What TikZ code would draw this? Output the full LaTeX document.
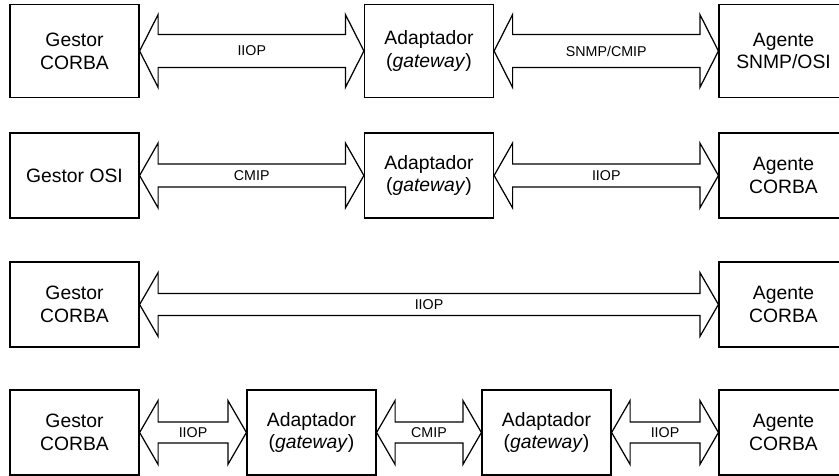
\documentclass[tikz,border=0pt]{standalone}
\usepackage{fontspec}
\setmainfont{Liberation Sans}
\usepackage{tikz}
\usetikzlibrary{calc}
\tikzset{style={font=\fontsize{11}{13}\selectfont}}

% block arrow with two heads: from node, to node, label, half shaft, half head
\newcommand{\dualarrow}[5]{%
  \draw (#1.east) -- ($(#1.east)+(3.7mm,#5)$) -- ($(#1.east)+(3.7mm,#4)$)
    -- ($(#2.west)+(-3.7mm,#4)$) -- ($(#2.west)+(-3.7mm,#5)$) -- (#2.west)
    -- ($(#2.west)+(-3.7mm,-#5)$) -- ($(#2.west)+(-3.7mm,-#4)$)
    -- ($(#1.east)+(3.7mm,-#4)$) -- ($(#1.east)+(3.7mm,-#5)$) -- cycle;
  \node[lbl] (#1#2) at ($(#1.east)!.5!(#2.west)$) {#3};}

\begin{document}
\begin{tikzpicture}[
            line width=0.7pt,
            box/.style={
                draw,
                minimum width=25.8mm,
                minimum height=17mm,
                inner sep=0pt,
                align=center,
            },
            tallbox/.style={box, minimum height=18.6mm},
            lbl/.style={font=\fontsize{8.1}{9.6}\selectfont, inner sep=0pt},
        ]
        \clip (0mm,0mm) rectangle (167.8mm,-95mm);
        % first row
        \node[tallbox] (g1) at (14.9mm,-10.2mm) {Gestor\\CORBA};
        \node[tallbox] (a1) at (85.8mm,-10.2mm) {Adaptador\\(\textit{gateway})};
        \node[tallbox] (ag1) at (156.7mm,-10.2mm) {Agente\\SNMP/OSI};
        \dualarrow{g1}{a1}{IIOP}{3.3mm}{7.3mm}
        \dualarrow{a1}{ag1}{SNMP/CMIP}{3.3mm}{7.3mm}
        % second row
        \node[box] (g2) at (14.9mm,-35.1mm) {Gestor OSI};
        \node[box] (a2) at (85.8mm,-35.1mm) {Adaptador\\(\textit{gateway})};
        \node[box] (ag2) at (156.7mm,-35.1mm) {Agente\\CORBA};
        \dualarrow{g2}{a2}{CMIP}{2.3mm}{6.5mm}
        \dualarrow{a2}{ag2}{IIOP}{2.3mm}{6.5mm}
        % third row
        \node[box] (g3) at (14.9mm,-60.9mm) {Gestor\\CORBA};
        \node[box] (ag3) at (156.7mm,-60.9mm) {Agente\\CORBA};
        \dualarrow{g3}{ag3}{IIOP}{2.2mm}{6.4mm}
        % fourth row
        \node[box] (g4) at (14.9mm,-86.5mm) {Gestor\\CORBA};
        \node[box] (a4) at (62.3mm,-86.5mm) {Adaptador\\(\textit{gateway})};
        \node[box] (b4) at (109.3mm,-86.5mm) {Adaptador\\(\textit{gateway})};
        \node[box] (ag4) at (156.7mm,-86.5mm) {Agente\\CORBA};
        \dualarrow{g4}{a4}{IIOP}{2.1mm}{6.4mm}
        \dualarrow{a4}{b4}{CMIP}{2.1mm}{6.4mm}
        \dualarrow{b4}{ag4}{IIOP}{2.1mm}{6.4mm}
        \end{tikzpicture}
\end{document}
